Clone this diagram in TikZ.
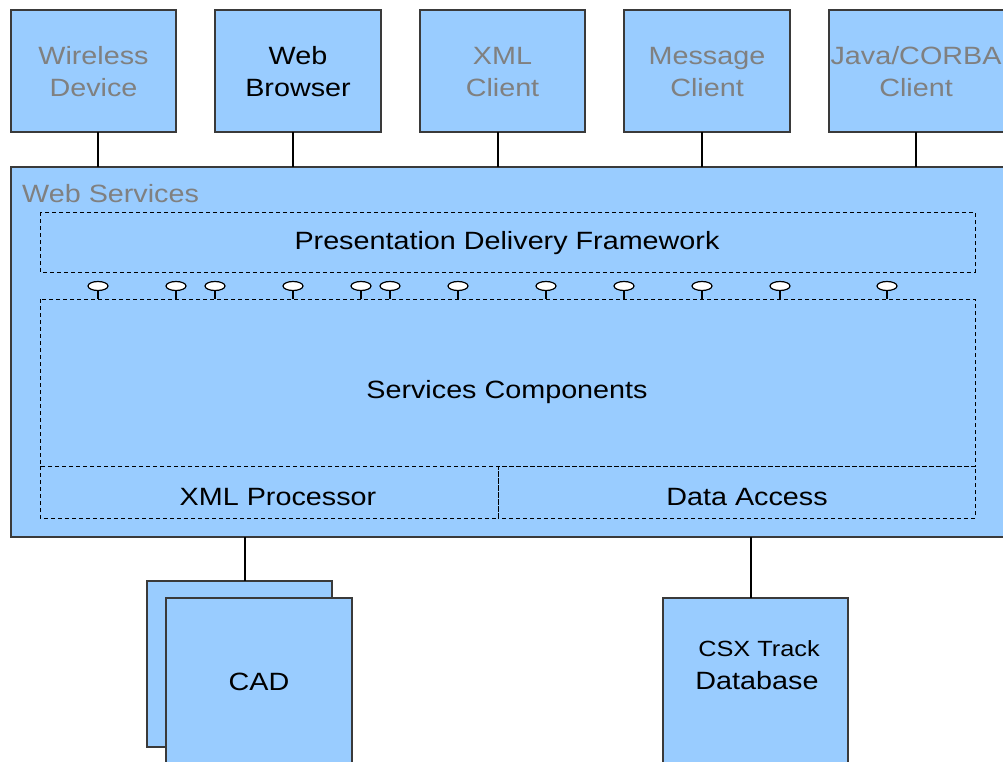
\documentclass[tikz,border=0pt]{standalone}
\usepackage{fontspec}
\setmainfont{Liberation Sans}[FakeStretch=1.15]
\definecolor{boxfill}{HTML}{99CCFF}
\definecolor{edge}{HTML}{3A3A3A}
\definecolor{graytext}{HTML}{808080}
\begin{document}
\begin{tikzpicture}[x=1pt,y=-1pt,
  txt/.style={font=\fontsize{25}{32}\selectfont},
  blue box/.style={draw=edge,fill=boxfill,line width=1.3pt},
  dashbox/.style={draw=black,line width=0.9pt,dash pattern=on 4pt off 3pt},
  link/.style={draw=black,line width=1.1pt},
  port/.style={draw=black,fill=white,line width=1.2pt}]
\useasboundingbox (0,0) rectangle (1003,761);
% top clients
\foreach \n/\xa/\xb/\c/\t in {wd/11/176/graytext/{Wireless\\Device},
  wb/215/381/black/{Web\\Browser},
  xc/420/585/graytext/{XML\\Client},
  mc/624/790/graytext/{Message\\Client}}{
  \path[blue box] (\xa,10) rectangle (\xb,132);
  \node[txt,text=\c,align=center,inner sep=0pt] (\n) at ({(\xa+\xb)/2},72) {\t};
}
\path[blue box] (829,10) rectangle (1010,132);
\node[txt,text=graytext,align=center,inner sep=0pt] (jc) at (916,72) {Java/CORBA\\Client};
% web services
\path[blue box] (11,167) rectangle (1010,537);
\node[txt,text=graytext,anchor=base west,inner sep=0pt] (ws) at (22,202) {Web Services};
% connectors
\foreach \x in {98,293,498,702,916}{
  \draw[link] (\x,132) -- (\x,167);
}
% presentation
\draw[dashbox] (40,212) rectangle (975,272);
\node[txt,inner sep=0pt] (pdf) at (507,243) {Presentation Delivery Framework};
% services
\draw[dashbox] (40,299) rectangle (975,466);
\node[txt,inner sep=0pt] (sc) at (507,392) {Services Components};
\draw[dashbox] (40,466) rectangle (498,518);
\draw[dashbox] (498,466) rectangle (975,518);
\node[txt,inner sep=0pt] (xp) at (278,497) {XML Processor};
\node[txt,inner sep=0pt] (da) at (747,497) {Data Access};
% ports
\foreach \x in {98,176,215,293,361,390,458,546,624,702,780,887}{
  \draw[line width=1.2pt] (\x,290) -- (\x,299);
  \path[port] (\x,286) ellipse [x radius=10, y radius=4.5];
}
% CAD
\path[blue box] (147,581) rectangle (332,747);
\path[blue box] (166,598) rectangle (352,770);
\node[txt,inner sep=0pt] (cad) at (259,682) {CAD};
\draw[link] (245,537) -- (245,581);
% CSX
\path[blue box] (663,598) rectangle (848,770);
\node[txt,align=center,inner sep=0pt,font=\fontsize{22}{33}\selectfont] (csx) at (757,665) {\hspace*{4pt}CSX Track\\\fontsize{25}{33}\selectfont Database};
\draw[link] (751,537) -- (751,598);
\end{tikzpicture}
\end{document}
